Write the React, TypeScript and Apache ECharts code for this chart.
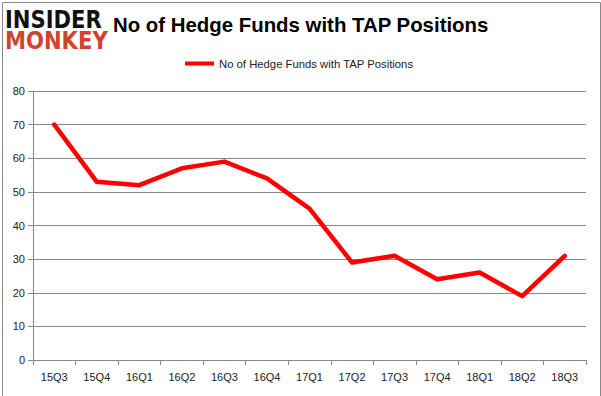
import React, { useEffect, useRef } from "react";
import * as echarts from "echarts";

const categories = ["15Q3", "15Q4", "16Q1", "16Q2", "16Q3", "16Q4", "17Q1", "17Q2", "17Q3", "17Q4", "18Q1", "18Q2", "18Q3"];
const hedgeFunds = [70, 53, 52, 57, 59, 54, 45, 29, 31, 24, 26, 19, 31];
const seriesName = "No of Hedge Funds with TAP Positions";
const titleText = "No of Hedge Funds with TAP Positions";

export default function App() {
  const ref = useRef<HTMLDivElement>(null);
  useEffect(() => {
    if (!ref.current) return;
    const chart = echarts.init(ref.current, null, { renderer: "svg" });
    const font = "'Liberation Sans', Arial, sans-serif";
    chart.setOption({
      animation: false,
      backgroundColor: "#ffffff",
      textStyle: { fontFamily: font },
      grid: { left: 33, right: 15, top: 91, bottom: 36 },
      legend: {
        data: [seriesName],
        top: 53,
        left: 180,
        itemWidth: 29,
        itemHeight: 4,
        itemGap: 4,
        icon: "rect",
        textStyle: { fontSize: 11.3, color: "#222", fontFamily: font, padding: [0, 0, 0, 0] },
      },
      xAxis: {
        type: "category",
        data: categories,
        boundaryGap: true,
        axisLine: { show: true, lineStyle: { color: "#888", width: 1 } },
        axisTick: { show: true, length: 5, lineStyle: { color: "#888" }, alignWithLabel: false },
        axisLabel: { color: "#222", fontSize: 11, margin: 11, fontFamily: font },
        splitLine: { show: false },
      },
      yAxis: {
        type: "value",
        min: 0,
        max: 80,
        interval: 10,
        axisLine: { show: true, lineStyle: { color: "#888", width: 1 } },
        axisTick: { show: true, length: 5, lineStyle: { color: "#888" } },
        axisLabel: { color: "#222", fontSize: 11, margin: 8, fontFamily: font },
        splitLine: { show: true, lineStyle: { color: "#888", width: 1 } },
      },
      series: [
        {
          name: seriesName,
          type: "line",
          data: hedgeFunds,
          symbol: "none",
          lineStyle: { color: "#ff0000", width: 4.5, cap: "round", join: "round" },
          itemStyle: { color: "#ff0000" },
        },
      ],
      graphic: [
        {
          type: "rect",
          left: 0,
          top: 0,
          shape: { x: 0.5, y: 0.5, width: 598, height: 395 },
          style: { fill: "none", stroke: "#888", lineWidth: 1 },
          silent: true,
        },
        {
          type: "text",
          x: 5,
          y: 7,
          scaleX: 0.88,
          style: {
            text: "INSIDER",
            font: "900 24px 'DejaVu Sans', sans-serif",
            fill: "#111",
          },
        },
        {
          type: "text",
          x: 5,
          y: 28,
          scaleX: 0.88,
          style: {
            text: "MONKEY",
            font: "900 24px 'DejaVu Sans', sans-serif",
            fill: "#d2432d",
          },
        },
        {
          type: "text",
          x: 113,
          y: 15,
          style: {
            text: titleText,
            font: "bold 20.4px 'Liberation Sans', Arial, sans-serif",
            fill: "#000",
          },
        },
      ],
    });
    return () => chart.dispose();
  }, []);
  return <div ref={ref} style={{ position: "fixed", left: 0, top: 0, width: 601, height: 396 }} />;
}
